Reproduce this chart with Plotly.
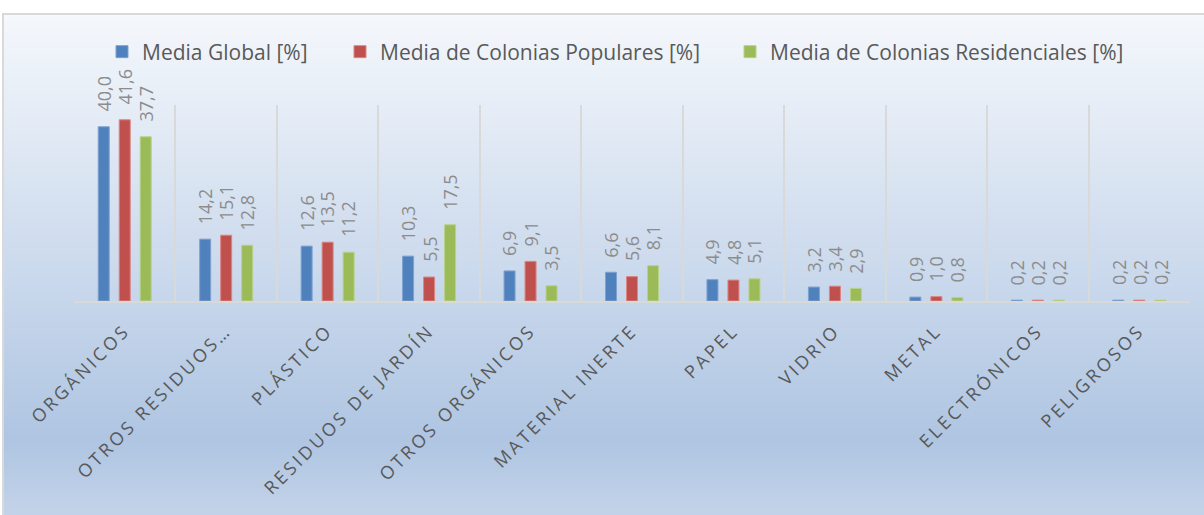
import plotly.graph_objects as go

# ---------------- data ----------------
categories = ["ORGÁNICOS", "OTROS RESIDUOS…", "PLÁSTICO", "RESIDUOS DE JARDÍN",
              "OTROS ORGÁNICOS", "MATERIAL INERTE", "PAPEL", "VIDRIO", "METAL",
              "ELECTRÓNICOS", "PELIGROSOS"]
media_global = [40.0, 14.2, 12.6, 10.3, 6.9, 6.6, 4.9, 3.2, 0.9, 0.2, 0.2]
media_populares = [41.6, 15.1, 13.5, 5.5, 9.1, 5.6, 4.8, 3.4, 1.0, 0.2, 0.2]
media_residenciales = [37.7, 12.8, 11.2, 17.5, 3.5, 8.1, 5.1, 2.9, 0.8, 0.2, 0.2]
series_names = ["Media Global [%]", "Media de Colonias Populares [%]",
                "Media de Colonias Residenciales [%]"]
colors = ["#4F81BD", "#C0504D", "#9BBB59"]
edge_colors = ["#7FA1D0", "#D98684", "#B8D18A"]
legend_square_left_px = [116, 354, 744]

# ---------------- layout geometry ----------------
W, H = 1204, 515
ML, MR, MT, MB = 74, 14, 105, 214
PW = W - ML - MR
PH = H - MT - MB
BARGAP = 0.379
BARGROUPGAP = 0.476
FONT = "Open Sans"


def px_x(px):
    return (px - ML) / PW


def px_y(py):
    return (H - MB - py) / PH


def fmt(v):
    return f"{v:.1f}".replace(".", ",")


fig = go.Figure()
all_series = [media_global, media_populares, media_residenciales]
legend_ids = ["legend", "legend2", "legend3"]
for name, vals, col, edge, lid in zip(series_names, all_series, colors, edge_colors, legend_ids):
    fig.add_trace(go.Bar(
        name=name, x=categories, y=vals,
        marker=dict(color=col, line=dict(color=edge, width=1)),
        hoverinfo="x+y", legend=lid,
    ))

# data labels (rotated, placed above bars)
cat_w = PW / len(categories)
slot = (1 - BARGAP) * cat_w / len(all_series)
annotations = []
for k, vals in enumerate(all_series):
    shift = (k - (len(all_series) - 1) / 2) * slot
    for c, v in zip(categories, vals):
        annotations.append(dict(
            x=c, y=v, xref="x", yref="y", text=fmt(v), showarrow=False,
            textangle=-90, xanchor="center", yanchor="bottom",
            xshift=shift, yshift=13,
            font=dict(family=FONT, size=18, color="#8C8C8C"),
        ))

# gradient background via thin bands
stops = [(14, (245, 248, 252)), (440, (175, 197, 226)), (515, (195, 211, 233))]


def col_at(py):
    for (y0, c0), (y1, c1) in zip(stops[:-1], stops[1:]):
        if y0 <= py <= y1:
            t = (py - y0) / (y1 - y0)
            return tuple(round(a + (b - a) * t) for a, b in zip(c0, c1))
    return stops[-1][1]


shapes = []
band = 4
py = 14
while py < H:
    y_top, y_bot = py, min(py + band, H + 2)
    c = col_at(py + band / 2)
    shapes.append(dict(
        type="rect", xref="paper", yref="paper", layer="below",
        x0=px_x(3), x1=px_x(W + 5), y0=px_y(y_bot + 0.5), y1=px_y(y_top),
        fillcolor=f"rgb{c}", line=dict(width=0),
    ))
    py += band
shapes.append(dict(
    type="rect", xref="paper", yref="paper", layer="below",
    x0=px_x(3), x1=px_x(W + 5), y0=px_y(H + 5), y1=px_y(14),
    fillcolor="rgba(0,0,0,0)", line=dict(color="#D9D9D9", width=2),
))

legend_common = dict(
    orientation="h", yanchor="middle", xanchor="left", y=px_y(52),
    font=dict(family=FONT, size=21, color="#595959"),
    bgcolor="rgba(0,0,0,0)", itemwidth=30,
)
legends = {}
for lid, sq in zip(legend_ids, legend_square_left_px):
    legends[lid] = dict(legend_common, x=px_x(sq - 14))

fig.update_layout(
    width=W, height=H,
    margin=dict(l=ML, r=MR, t=MT, b=MB, autoexpand=False),
    paper_bgcolor="white", plot_bgcolor="rgba(0,0,0,0)",
    barmode="group", bargap=BARGAP, bargroupgap=BARGROUPGAP,
    font=dict(family=FONT, color="#595959"),
    showlegend=True,
    xaxis=dict(
        type="category", tickson="boundaries", showgrid=True,
        gridcolor="#D9D9D9", gridwidth=1.5,
        showline=True, linecolor="#D9D9D9", linewidth=2,
        ticks="", tickangle=-45, ticklabelstandoff=10,
        tickfont=dict(family=FONT, size=18, color="#595959"),
        automargin=False, fixedrange=True,
    ),
    yaxis=dict(range=[0, 45], visible=False, fixedrange=True),
    annotations=annotations,
    shapes=shapes,
    **legends,
)

post = ("document.body.style.margin='0';"
        "var gd=document.getElementById('{plot_id}');"
        "gd.querySelectorAll('.xtick text').forEach(function(t){t.style.letterSpacing='3px';});")

fig.write_html("out.html", post_script=post, config={"displayModeBar": False})
